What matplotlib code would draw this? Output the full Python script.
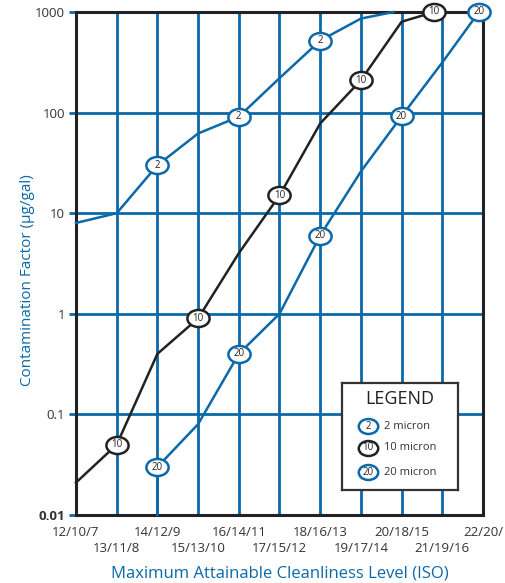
"""Contamination factor vs. maximum attainable ISO cleanliness level."""

import matplotlib
matplotlib.use("Agg")
import matplotlib.pyplot as plt
from matplotlib.path import Path
from matplotlib.transforms import Affine2D, blended_transform_factory

plt.rcParams["font.family"] = ["Open Sans", "DejaVu Sans"]

BLUE = "#0b69a9"
BLACK = "#222222"
TEXT = "#333333"

iso_codes = ["12/10/7", "13/11/8", "14/12/9", "15/13/10", "16/14/11", "17/15/12",
             "18/16/13", "19/17/14", "20/18/15", "21/19/16", "22/20/"]
y_ticks = [0.01, 0.1, 1, 10, 100, 1000]
y_tick_labels = ["0.01", "0.1", "1", "10", "100", "1000"]

# 2 micron curve
x_2 = [0, 1, 2, 3, 4, 5, 6, 7, 7.8]
v_2 = [8, 10, 30, 62, 91, 220, 520, 860, 1000]
mark_2 = [2, 4, 6]

# 10 micron curve
x_10 = [0, 1, 2, 3, 4, 5, 6, 7, 8, 8.8]
v_10 = [0.021, 0.05, 0.4, 0.9, 4, 15, 78, 210, 800, 1000]
mark_10 = [1, 3, 5, 7, 8.8]

# 20 micron curve
x_20 = [2, 2, 3, 4, 5, 6, 7, 8, 9, 9.9]
v_20 = [0.01, 0.03, 0.08, 0.4, 1.0, 6, 26, 92, 315, 1000]
mark_20 = [2, 4, 6, 8, 9.9]

ELLIPSE = Path.unit_circle().transformed(Affine2D().scale(1.3, 1.0))


def draw_curve(ax, xs, vs, marks, label, color):
    ax.plot(xs, vs, color=color, lw=1.8, zorder=3, clip_on=False)
    for m in marks:
        v = vs[len(xs) - 1 - xs[::-1].index(m)]
        ax.plot([m], [v], marker=ELLIPSE, ms=16, mfc="white", mec=color,
                mew=1.8, zorder=4, clip_on=False)
        ax.text(m, v, label, ha="center", va="center", fontsize=7,
                color=BLACK, zorder=5)


def main() -> None:
    fig = plt.figure(figsize=(5.06, 5.83), dpi=100)
    ax = fig.add_axes([76 / 506, 68 / 583, 407 / 506, 503 / 583])
    ax.set_yscale("log")
    ax.set_xlim(0, 10)
    ax.set_ylim(0.01, 1000)

    for i in range(1, 10):
        ax.axvline(i, color=BLUE, lw=2, zorder=1)
    for v in [0.1, 1, 10, 100]:
        ax.axhline(v, color=BLUE, lw=2, zorder=1)

    draw_curve(ax, x_2, v_2, mark_2, "2", BLUE)
    draw_curve(ax, x_10, v_10, mark_10, "10", BLACK)
    draw_curve(ax, x_20, v_20, mark_20, "20", BLUE)

    for s in ax.spines.values():
        s.set_color(BLACK)
        s.set_linewidth(2.2)
        s.set_zorder(2)

    # ISO labels in two staggered rows
    ax.set_xticks([])
    trans = blended_transform_factory(ax.transData, fig.transFigure)
    for i, code in enumerate(iso_codes):
        ypix = 533 if i % 2 == 0 else 549
        ax.text(i, 1 - ypix / 583, code, transform=trans, ha="center", va="center",
                fontsize=9.5, color=TEXT)

    ax.set_yticks(y_ticks)
    ax.set_yticklabels(y_tick_labels, fontsize=9.5, color=TEXT)
    ax.yaxis.get_ticklabels()[0].set_fontweight("bold")
    ax.minorticks_off()
    ax.tick_params(axis="y", length=5, width=2, color=BLUE, pad=3)

    fig.text(28 / 506, 1 - 280 / 583, "Contamination Factor (µg/gal)", rotation=90,
             ha="center", va="center", fontsize=11, color=BLUE)
    fig.text(280 / 506, 1 - 573 / 583, "Maximum Attainable Cleanliness Level (ISO)",
             ha="center", va="center", fontsize=12, color=BLUE)

    # legend box
    lg = fig.add_axes([342 / 506, 93 / 583, 116 / 506, 107 / 583])
    lg.set_xlim(0, 1)
    lg.set_ylim(0, 1)
    lg.set_xticks([])
    lg.set_yticks([])
    for s in lg.spines.values():
        s.set_color("#333333")
        s.set_linewidth(1.6)
    lg.text(0.5, 0.85, "LEGEND", ha="center", va="center", fontsize=13,
            fontweight="medium", color=BLACK)
    entries = [("2", BLUE, "2 micron", 0.598), ("10", BLACK, "10 micron", 0.393),
               ("20", BLUE, "20 micron", 0.168)]
    for lab, col, txt, yy in entries:
        lg.plot([0.224], [yy], marker=ELLIPSE, ms=14, mfc="white", mec=col, mew=1.8)
        lg.text(0.224, yy, lab, ha="center", va="center", fontsize=7, color=BLACK)
        lg.text(0.362, yy, txt, ha="left", va="center", fontsize=8, color=TEXT)

    fig.savefig("out.png", dpi=100)
    plt.close(fig)


if __name__ == "__main__":
    main()
